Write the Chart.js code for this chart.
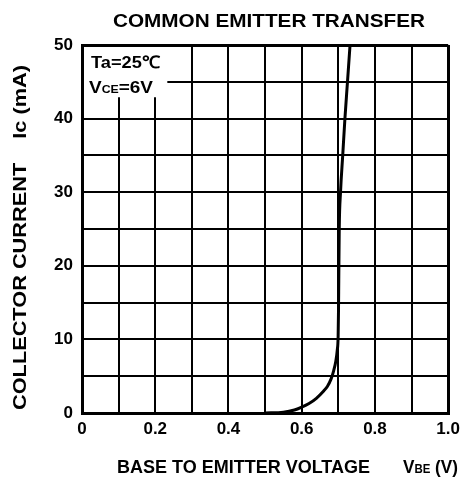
<!DOCTYPE html>
<html>
<head>
<meta charset="utf-8">
<script src="https://cdn.jsdelivr.net/npm/chart.js@4"></script>
<style>
html,body{margin:0;padding:0;background:#fff;}
canvas{display:block;}
</style>
</head>
<body>
<canvas id="c" width="466" height="492"></canvas>
<script>
// Data
const vbe = [0.50, 0.55, 0.58, 0.60, 0.62, 0.64, 0.66, 0.67, 0.68, 0.687, 0.693, 0.697, 0.6995, 0.7005, 0.7012, 0.7025, 0.706, 0.712, 0.718, 0.725, 0.732];
const ic  = [0.0,  0.1,  0.4,  0.8,  1.3,  2.0,  3.0,  3.6,  4.6,  5.7,   7.0,   8.5,   10.5,   14,     18,     25,     30,    35,    40,    45,    50];
const xTickLabels = ["0", "0.2", "0.4", "0.6", "0.8", "1.0"];
const yTickLabels = ["0", "10", "20", "30", "40", "50"];
const chartTitle = "COMMON EMITTER TRANSFER";
const yTitleMain = "COLLECTOR CURRENT    Ic (mA)";
const xTitleMain = "BASE TO EMITTER VOLTAGE";
const xTitleSym = ["V", "BE", " (V)"];
const condLine1 = "Ta=25\u2103";
const condLine2 = ["V", "CE", "=6V"];

const points = vbe.map((v, i) => ({x: v, y: ic[i]}));
const FONT = "Liberation Sans, Arial, Helvetica, sans-serif";

// draw runs of text [{t, s}] starting at x (left), baseline y, stretched to width w
function drawRuns(ctx, runs, x, y, w) {
  let total = 0;
  runs.forEach(r => { ctx.font = "bold " + r.s + "px " + FONT; total += ctx.measureText(r.t).width; });
  const k = w / total;
  ctx.save();
  ctx.translate(x, y);
  ctx.scale(k, 1);
  ctx.textAlign = 'left';
  ctx.textBaseline = 'alphabetic';
  let cx = 0;
  runs.forEach(r => {
    ctx.font = "bold " + r.s + "px " + FONT;
    ctx.fillText(r.t, cx, 0);
    cx += ctx.measureText(r.t).width;
  });
  ctx.restore();
}

const textPlugin = {
  id: 'texts',
  afterDraw(chart) {
    const ctx = chart.ctx;
    const ca = chart.chartArea;
    const xs = chart.scales.x, ys = chart.scales.y;
    ctx.save();
    // condition box (covers gridlines)
    const bx = xs.getPixelForValue(0.233), by = ys.getPixelForValue(42.9);
    ctx.fillStyle = '#fff';
    ctx.fillRect(ca.left + 2, ca.top + 2, bx - ca.left - 2, by - ca.top - 2);
    ctx.fillStyle = '#000';
    drawRuns(ctx, [{t: condLine1, s: 17}], 91, 68, 69);
    drawRuns(ctx, [{t: condLine2[0], s: 17}, {t: condLine2[1], s: 11}, {t: condLine2[2], s: 17}], 89, 93, 64);

    // chart title
    drawRuns(ctx, [{t: chartTitle, s: 18}], 113, 27, 312);

    // x axis title
    drawRuns(ctx, [{t: xTitleMain, s: 18}], 117, 473, 253);
    drawRuns(ctx, [{t: xTitleSym[0], s: 18}, {t: xTitleSym[1], s: 12}, {t: xTitleSym[2], s: 18}], 403, 473, 55);

    // y axis title
    ctx.translate(26, 410);
    ctx.rotate(-Math.PI / 2);
    drawRuns(ctx, [{t: yTitleMain, s: 18}], 0, 0, 345);
    ctx.restore();
  }
};

new Chart(document.getElementById('c'), {
  type: 'line',
  data: {
    datasets: [{
      data: points,
      borderColor: '#000',
      borderWidth: 3,
      pointRadius: 0,
      fill: false,
      cubicInterpolationMode: 'monotone'
    }]
  },
  options: {
    responsive: false,
    animation: false,
    layout: {padding: {left: 0, top: 45, right: 11, bottom: 0}},
    plugins: {legend: {display: false}, tooltip: {enabled: false}, title: {display: false}},
    scales: {
      x: {
        type: 'linear', min: 0, max: 1.0,
        border: {display: true, color: '#000', width: 3},
        grid: {color: '#000', lineWidth: c => (c.index === 0 || c.index === 10) ? 3 : 2, drawTicks: false},
        ticks: {
          stepSize: 0.1, padding: 6, color: '#000',
          font: {family: FONT, size: 17, weight: 'bold'},
          maxRotation: 0, autoSkip: false,
          callback: (v) => {
            const k = Math.round(v * 10);
            return k % 2 === 0 ? xTickLabels[k / 2] : '';
          }
        },
        afterFit: s => { s.height = 79; }
      },
      y: {
        type: 'linear', min: 0, max: 50,
        border: {display: true, color: '#000', width: 3},
        grid: {color: '#000', lineWidth: c => (c.index === 0 || c.index === 10) ? 3 : 2, drawTicks: false},
        ticks: {
          stepSize: 5, padding: 9, color: '#000',
          font: {family: FONT, size: 17, weight: 'bold'},
          autoSkip: false,
          callback: (v) => {
            const k = Math.round(v);
            return k % 10 === 0 ? yTickLabels[k / 10] : '';
          }
        },
        afterFit: s => { s.width = 82; }
      }
    }
  },
  plugins: [textPlugin]
});
</script>
</body>
</html>
